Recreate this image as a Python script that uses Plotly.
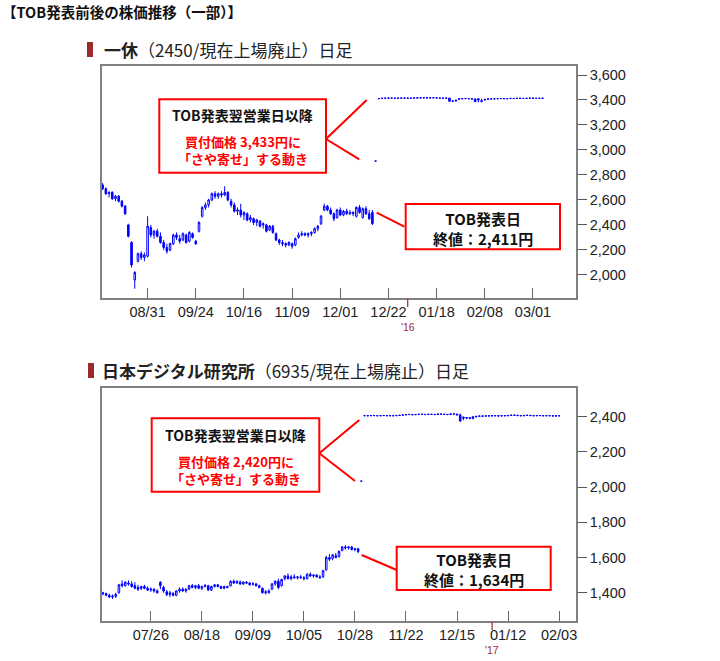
import plotly.graph_objects as go

# ---- 一休 (2450) daily candles, session index 0 = 2015/08/11 ----
ikyu_open = [
    2720, 2690, 2650, 2660, 2610, 2630, 2590, 2550, 2400, 2260,
    1960, 2110, 2170, 2140, 2150, 2380, 2320, 2350, 2310, 2260,
    2220, 2200, 2250, 2320, 2290, 2280, 2320, 2270, 2330, 2270,
    2350, 2470, 2540, 2560, 2600, 2650, 2630, 2650, 2640, 2660,
    2590, 2560, 2510, 2520, 2480, 2490, 2440, 2450, 2420, 2430,
    2400, 2400, 2360, 2390, 2330, 2280, 2260, 2250, 2240, 2250,
    2240, 2300, 2320, 2330, 2320, 2330, 2340, 2370, 2410, 2520,
    2550, 2520, 2490, 2460, 2520, 2480, 2510, 2490, 2500, 2470,
    2540, 2460, 2530, 2490, 2500,
    2911, 3411, 3412, 3415, 3414, 3416, 3415, 3414, 3415, 3416,
    3415, 3414, 3415, 3417, 3416, 3418, 3417, 3416, 3418, 3417,
    3416, 3415, 3414, 3415, 3390, 3392, 3405, 3410, 3412, 3411,
    3410, 3408, 3410, 3386, 3400, 3405, 3408, 3410, 3409, 3411,
    3412, 3410, 3411, 3413, 3412, 3414, 3413, 3412, 3414, 3415,
    3414, 3413, 3414]
ikyu_high = [
    2735, 2700, 2670, 2670, 2640, 2640, 2600, 2560, 2410, 2270,
    2030, 2180, 2190, 2180, 2470, 2400, 2360, 2370, 2340, 2280,
    2250, 2260, 2330, 2340, 2320, 2340, 2330, 2350, 2340, 2280,
    2430, 2550, 2580, 2610, 2660, 2670, 2660, 2670, 2710, 2670,
    2610, 2580, 2540, 2570, 2510, 2500, 2480, 2460, 2450, 2440,
    2420, 2410, 2400, 2400, 2340, 2290, 2280, 2260, 2270, 2260,
    2300, 2340, 2350, 2340, 2340, 2350, 2380, 2400, 2480, 2570,
    2560, 2540, 2500, 2530, 2540, 2520, 2530, 2520, 2510, 2550,
    2560, 2540, 2550, 2520, 2520,
    2911, 3411, 3415, 3416, 3416, 3418, 3416, 3416, 3416, 3418,
    3417, 3416, 3417, 3419, 3418, 3420, 3419, 3418, 3420, 3419,
    3418, 3417, 3416, 3416, 3395, 3400, 3410, 3412, 3414, 3413,
    3412, 3411, 3411, 3410, 3405, 3410, 3410, 3412, 3411, 3413,
    3414, 3412, 3413, 3415, 3414, 3416, 3415, 3414, 3416, 3417,
    3416, 3415, 3416]
ikyu_low = [
    2680, 2640, 2620, 2600, 2590, 2580, 2540, 2480, 2300, 2060,
    1890, 2100, 2120, 2110, 2140, 2300, 2290, 2300, 2250, 2200,
    2170, 2190, 2240, 2280, 2250, 2270, 2250, 2260, 2290, 2240,
    2340, 2460, 2520, 2540, 2590, 2610, 2610, 2620, 2630, 2590,
    2540, 2500, 2480, 2460, 2440, 2430, 2420, 2400, 2390, 2380,
    2370, 2340, 2350, 2330, 2270, 2240, 2230, 2220, 2230, 2210,
    2230, 2290, 2310, 2310, 2300, 2310, 2330, 2350, 2400, 2510,
    2510, 2480, 2430, 2450, 2470, 2470, 2480, 2480, 2470, 2460,
    2490, 2450, 2480, 2440, 2400,
    2911, 3411, 3411, 3413, 3412, 3414, 3413, 3412, 3413, 3414,
    3413, 3412, 3413, 3415, 3414, 3416, 3415, 3414, 3416, 3415,
    3414, 3413, 3412, 3388, 3385, 3388, 3400, 3406, 3409, 3408,
    3407, 3384, 3380, 3383, 3396, 3402, 3405, 3407, 3406, 3408,
    3409, 3407, 3408, 3410, 3409, 3411, 3410, 3409, 3411, 3412,
    3411, 3410, 3411]
ikyu_close = [
    2690, 2650, 2660, 2610, 2630, 2590, 2550, 2490, 2310, 2080,
    2020, 2170, 2140, 2160, 2390, 2320, 2350, 2310, 2260, 2220,
    2190, 2250, 2320, 2300, 2270, 2330, 2260, 2340, 2300, 2250,
    2420, 2540, 2560, 2600, 2650, 2630, 2650, 2640, 2660, 2600,
    2560, 2510, 2520, 2480, 2500, 2440, 2460, 2420, 2440, 2390,
    2410, 2350, 2390, 2340, 2280, 2260, 2250, 2240, 2260, 2230,
    2290, 2320, 2330, 2320, 2330, 2340, 2370, 2390, 2470, 2550,
    2520, 2490, 2450, 2520, 2480, 2510, 2490, 2500, 2490, 2540,
    2500, 2530, 2490, 2450, 2411,
    2911, 3411, 3414, 3414, 3416, 3415, 3414, 3415, 3416, 3415,
    3414, 3415, 3417, 3416, 3418, 3417, 3416, 3418, 3417, 3416,
    3415, 3414, 3415, 3390, 3392, 3398, 3410, 3412, 3411, 3410,
    3408, 3386, 3400, 3395, 3405, 3408, 3410, 3409, 3411, 3412,
    3410, 3411, 3413, 3412, 3414, 3413, 3412, 3414, 3415, 3414,
    3413, 3414, 3414]

# ---- 日本デジタル研究所 (6935) daily candles, session index 0 = 2016/07/04 ----
ndl_open = [
    1400, 1395, 1385, 1375, 1380, 1400, 1450, 1440, 1455, 1450,
    1440, 1430, 1425, 1435, 1425, 1415, 1420, 1410, 1460, 1430,
    1405, 1390, 1395, 1385, 1410, 1420, 1410, 1420, 1440, 1430,
    1440, 1425, 1435, 1440, 1415, 1435, 1445, 1435, 1425, 1435,
    1440, 1465, 1455, 1460, 1450, 1460, 1455, 1450, 1450, 1440,
    1425, 1400, 1400, 1420, 1450, 1465, 1440, 1480, 1495, 1480,
    1490, 1485, 1490, 1485, 1480, 1505, 1495, 1500, 1490, 1490,
    1530, 1600, 1595, 1610, 1605, 1640, 1660, 1655, 1660, 1645,
    1650,
    2034, 2405, 2406, 2405, 2407, 2406, 2405, 2406, 2407, 2405,
    2406, 2405, 2407, 2408, 2410, 2412, 2413, 2411, 2412, 2414,
    2413, 2412, 2414, 2413, 2412, 2415, 2414, 2413, 2412, 2416,
    2415, 2410, 2398, 2392, 2395, 2390, 2400, 2402, 2404, 2403,
    2405, 2404, 2406, 2405, 2404, 2406, 2405, 2407, 2409, 2408,
    2406, 2405, 2407, 2408, 2406, 2405, 2407, 2406, 2405, 2406,
    2405, 2404, 2405]
ndl_high = [
    1405, 1400, 1395, 1390, 1400, 1450, 1470, 1465, 1470, 1465,
    1460, 1445, 1440, 1445, 1435, 1430, 1425, 1420, 1465, 1440,
    1415, 1410, 1405, 1415, 1430, 1430, 1425, 1445, 1450, 1445,
    1450, 1440, 1450, 1445, 1440, 1450, 1450, 1440, 1440, 1440,
    1470, 1475, 1470, 1470, 1465, 1465, 1460, 1460, 1455, 1445,
    1430, 1415, 1420, 1455, 1470, 1480, 1480, 1500, 1510, 1500,
    1505, 1495, 1500, 1495, 1510, 1515, 1505, 1505, 1500, 1530,
    1610, 1620, 1620, 1625, 1640, 1665, 1670, 1665, 1665, 1655,
    1655,
    2034, 2406, 2407, 2406, 2408, 2407, 2406, 2407, 2408, 2406,
    2407, 2406, 2408, 2410, 2412, 2414, 2415, 2413, 2414, 2416,
    2415, 2414, 2416, 2415, 2414, 2417, 2416, 2415, 2414, 2418,
    2417, 2418, 2400, 2396, 2398, 2396, 2403, 2405, 2406, 2405,
    2407, 2406, 2408, 2407, 2406, 2408, 2407, 2409, 2411, 2410,
    2408, 2407, 2409, 2410, 2408, 2407, 2409, 2408, 2407, 2408,
    2407, 2406, 2406]
ndl_low = [
    1385, 1380, 1370, 1365, 1370, 1395, 1430, 1435, 1440, 1430,
    1420, 1410, 1415, 1420, 1410, 1405, 1400, 1395, 1420, 1400,
    1380, 1375, 1380, 1380, 1400, 1405, 1400, 1415, 1425, 1420,
    1420, 1415, 1430, 1410, 1410, 1430, 1430, 1420, 1420, 1425,
    1435, 1450, 1450, 1445, 1445, 1450, 1440, 1440, 1435, 1425,
    1395, 1390, 1395, 1415, 1440, 1420, 1435, 1470, 1475, 1470,
    1480, 1475, 1480, 1470, 1475, 1490, 1485, 1485, 1480, 1485,
    1525, 1580, 1585, 1595, 1600, 1635, 1645, 1645, 1640, 1635,
    1625,
    2034, 2404, 2405, 2404, 2406, 2405, 2404, 2405, 2406, 2404,
    2405, 2404, 2406, 2407, 2409, 2411, 2412, 2410, 2411, 2413,
    2412, 2411, 2413, 2412, 2411, 2414, 2413, 2412, 2411, 2414,
    2410, 2372, 2380, 2385, 2386, 2385, 2395, 2400, 2402, 2401,
    2403, 2402, 2404, 2403, 2402, 2404, 2403, 2405, 2407, 2406,
    2404, 2403, 2405, 2406, 2404, 2403, 2405, 2404, 2403, 2404,
    2403, 2402, 2404]
ndl_close = [
    1395, 1385, 1375, 1380, 1390, 1445, 1440, 1460, 1450, 1435,
    1425, 1420, 1435, 1425, 1415, 1420, 1410, 1400, 1440, 1410,
    1390, 1400, 1385, 1410, 1420, 1410, 1420, 1440, 1430, 1440,
    1425, 1435, 1440, 1415, 1435, 1445, 1435, 1425, 1435, 1430,
    1465, 1455, 1465, 1450, 1460, 1455, 1445, 1450, 1440, 1430,
    1400, 1405, 1410, 1450, 1465, 1430, 1475, 1495, 1480, 1490,
    1485, 1490, 1485, 1480, 1505, 1495, 1500, 1490, 1485, 1525,
    1600, 1590, 1615, 1600, 1635, 1660, 1655, 1660, 1645, 1650,
    1634,
    2034, 2406, 2405, 2407, 2406, 2405, 2406, 2407, 2405, 2406,
    2405, 2407, 2408, 2410, 2412, 2413, 2411, 2412, 2414, 2413,
    2412, 2414, 2413, 2412, 2415, 2414, 2413, 2412, 2416, 2415,
    2410, 2375, 2392, 2395, 2390, 2400, 2402, 2404, 2403, 2405,
    2404, 2406, 2405, 2404, 2406, 2405, 2407, 2409, 2408, 2406,
    2405, 2407, 2408, 2406, 2405, 2407, 2406, 2405, 2406, 2405,
    2404, 2405, 2405]

# x-axis tick labels (session index -> label)
ikyu_tick_pos = [14, 29, 44, 59, 74, 89, 104, 119, 134]
ikyu_tick_text = ["08/31", "09/24", "10/16", "11/09", "12/01", "12/22", "01/18", "02/08", "03/01"]
ikyu_year_pos, ikyu_year_text = 95, "'16"
ndl_tick_pos = [15, 31, 47, 63, 79, 95, 111, 127, 143]
ndl_tick_text = ["07/26", "08/18", "09/09", "10/05", "10/28", "11/22", "12/15", "01/12", "02/03"]
ndl_year_pos, ndl_year_text = 122, "'17"

ikyu_yticks = [2000, 2200, 2400, 2600, 2800, 3000, 3200, 3400, 3600]
ndl_yticks = [1400, 1600, 1800, 2000, 2200, 2400]

W, H = 720, 661
BLUE = "#0000ff"
RED = "#ff0000"
JP = "Noto Sans CJK JP"
AXIS_FONT = dict(family="Liberation Sans, Arial", size=14.5, color="#222222")


def px(x):
    return x / W


def py(y):
    return 1 - y / H


def candles(o, h, l, c, xa, ya):
    return go.Candlestick(
        x=list(range(len(c))), open=o, high=h, low=l, close=c,
        xaxis=xa, yaxis=ya,
        increasing=dict(line=dict(color=BLUE, width=1), fillcolor="white"),
        decreasing=dict(line=dict(color=BLUE, width=1), fillcolor=BLUE),
        whiskerwidth=0, hoverinfo="skip", showlegend=False,
    )


fig = go.Figure()
fig.add_trace(candles(ikyu_open, ikyu_high, ikyu_low, ikyu_close, "x", "y"))
fig.add_trace(candles(ndl_open, ndl_high, ndl_low, ndl_close, "x2", "y2"))

xcommon = dict(
    showgrid=False, zeroline=False, showline=True, mirror=True,
    linecolor="#808080", linewidth=1.5, ticks="inside", ticklen=10,
    tickcolor="#666666", tickwidth=1, tickfont=AXIS_FONT,
    rangeslider=dict(visible=False), fixedrange=True,
)
ycommon = dict(
    showgrid=False, zeroline=False, showline=True, mirror=True,
    linecolor="#808080", linewidth=1.5, side="right", ticks="outside",
    ticklen=9, tickcolor="#555555", tickwidth=1, tickfont=AXIS_FONT,
    tickformat=",d", fixedrange=True,
)

fig.update_layout(
    width=W, height=H,
    margin=dict(l=0, r=0, t=0, b=0),
    paper_bgcolor="white", plot_bgcolor="white",
    xaxis=dict(xcommon, domain=[px(102), px(576)], range=[-0.2, 147.4],
               tickvals=ikyu_tick_pos, ticktext=ikyu_tick_text, anchor="y"),
    yaxis=dict(ycommon, domain=[py(297.7), py(66)], range=[1818, 3672],
               tickvals=ikyu_yticks, anchor="x"),
    xaxis2=dict(xcommon, domain=[px(102), px(576)], range=[-0.3, 148.3],
                tickvals=ndl_tick_pos, ticktext=ndl_tick_text, anchor="y2"),
    yaxis2=dict(ycommon, domain=[py(620.7), py(388)], range=[1241, 2563],
                tickvals=ndl_yticks, anchor="x2"),
)

shapes = []
annotations = []

# main heading
annotations.append(dict(
    text="<b>【TOB発表前後の株価推移（一部）】</b>", x=0, y=py(12),
    xref="paper", yref="paper", xanchor="left", yanchor="middle",
    showarrow=False, font=dict(family=JP, size=14.5, color="#111111")))

# chart subtitles with marker
for (mx0, my0, mx1, my1, tx, ty, name, rest) in [
    (87, 42, 93, 57, 102, 49, "一休", "（2450/現在上場廃止）日足"),
    (88, 363, 94, 378, 100, 370, "日本デジタル研究所", "（6935/現在上場廃止）日足"),
]:
    shapes.append(dict(type="rect", xref="paper", yref="paper",
                       x0=px(mx0), x1=px(mx1), y0=py(my1), y1=py(my0),
                       fillcolor="#9b2a2a", line=dict(width=0)))
    annotations.append(dict(
        text=f"<b>{name}</b>{rest}", x=px(tx), y=py(ty),
        xref="paper", yref="paper", xanchor="left", yanchor="middle",
        showarrow=False, font=dict(family=JP, size=17, color="#222222")))

# year markers under x axes
for xa, ya, pos, txt in [("x", "y", ikyu_year_pos, ikyu_year_text),
                         ("x2", "y2", ndl_year_pos, ndl_year_text)]:
    shapes.append(dict(type="line", xref=xa, yref=f"{ya} domain",
                       x0=pos, x1=pos, y0=-0.005, y1=-0.04,
                       line=dict(color="#a0282a", width=1.2)))
    annotations.append(dict(
        text=txt, x=pos, y=-0.127, xref=xa, yref=f"{ya} domain",
        xanchor="center", yanchor="middle", showarrow=False, borderpad=0,
        font=dict(family="Liberation Sans, Arial", size=10.5, color="#a0282a")))


def callout(x0, y0, x1, y1, blocks):
    shapes.append(dict(type="rect", xref="paper", yref="paper",
                       x0=px(x0), x1=px(x1), y0=py(y1), y1=py(y0),
                       fillcolor="white", line=dict(color=RED, width=2)))
    cx = (x0 + x1) / 2
    for text, ty, color, size in blocks:
        annotations.append(dict(
            text=f"<b>{text}</b>", x=px(cx), y=py(ty),
            xref="paper", yref="paper", xanchor="center", yanchor="middle",
            showarrow=False, borderpad=0,
            font=dict(family=JP, size=size, color=color)))


def pointer(x0, y0, x1, y1):
    shapes.append(dict(type="line", xref="paper", yref="paper",
                       x0=px(x0), y0=py(y0), x1=px(x1), y1=py(y1),
                       line=dict(color=RED, width=2)))


# 一休 callouts
callout(159.3, 99.3, 326, 172.7, [
    ("TOB発表翌営業日以降", 115.5, "#111111", 14),
    ("買付価格 3,433円に<br>「さや寄せ」する動き", 150, RED, 13),
])
pointer(326, 139, 366.7, 100)
pointer(326, 139, 359.3, 159.3)
callout(405.7, 204, 560, 249.3, [
    ("TOB発表日<br>終値：2,411円", 228, "#111111", 15),
])
pointer(376.7, 212.7, 404.3, 226.7)

# 日本デジタル研究所 callouts
callout(151.7, 418.3, 319.3, 491.7, [
    ("TOB発表翌営業日以降", 434.5, "#111111", 14),
    ("買付価格 2,420円に<br>「さや寄せ」する動き", 470, RED, 13),
])
pointer(319.3, 453.3, 359.3, 420)
pointer(319.3, 453.3, 355, 481)
callout(396.7, 546.7, 550.7, 590, [
    ("TOB発表日<br>終値：1,634円", 569.5, "#111111", 15),
])
pointer(361.7, 555, 396.7, 570)

fig.update_layout(shapes=shapes, annotations=annotations)

# the page body gets a default 8px margin; drop it so the figure sits at 0,0
fig.write_html("out.html", config={"displayModeBar": False},
               post_script="document.body.style.margin='0px';")
